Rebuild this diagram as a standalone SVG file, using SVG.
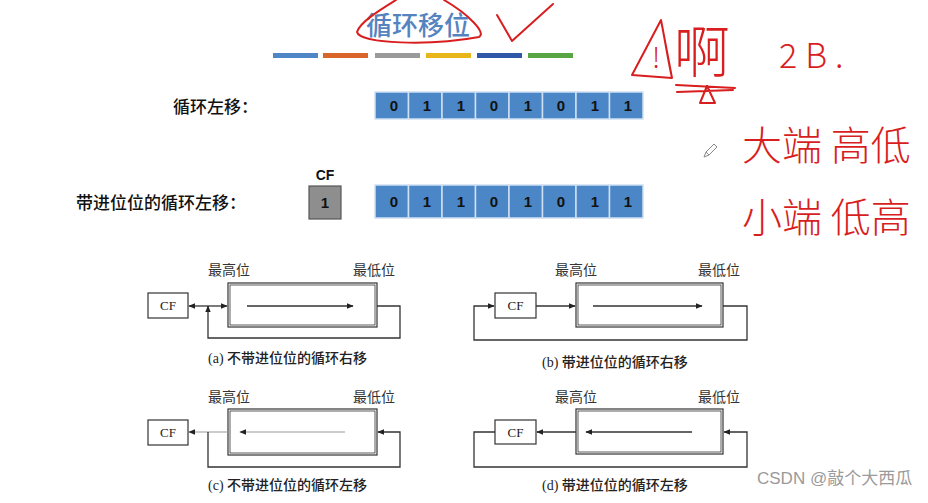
<svg xmlns="http://www.w3.org/2000/svg" width="928" height="503" viewBox="0 0 928 503">
<style>
.cell{fill:#4b86c7;stroke:#cfe0f2;stroke-width:1.5}
.dig{font-family:"Liberation Sans",Arial,sans-serif;font-weight:bold;font-size:15px;fill:#111;text-anchor:middle}
.lbl{font-family:"Noto Sans CJK SC",sans-serif;font-size:17px;font-weight:500;fill:#111}
.sm{font-family:"Noto Sans CJK SC",serif;font-size:14px;fill:#333}
.cap{font-family:"Liberation Serif","Noto Sans CJK SC",serif;font-size:14px;fill:#222;font-weight:500}
.box{fill:#fff;stroke:#333;stroke-width:1.2}
.cft{font-family:"Liberation Serif",serif;font-size:13px;fill:#222;text-anchor:middle}
.ln{fill:none;stroke:#333;stroke-width:1.3}
.lt{fill:none;stroke:#999;stroke-width:1.2}
.red{fill:#d81e1e;font-family:"Noto Sans CJK SC",sans-serif;font-weight:300}
.rs{fill:none;stroke:#d81e1e;stroke-width:2;stroke-linecap:round;stroke-linejoin:round}
</style>
<defs>
<marker id="ah" viewBox="0 0 10 10" refX="9" refY="5" markerWidth="7" markerHeight="7" markerUnits="userSpaceOnUse" orient="auto">
<path d="M0,1 L10,5 L0,9 Z" fill="#222"/>
</marker>
</defs>
<rect width="928" height="503" fill="#fff"/>

<g id="title">
<text x="366" y="35" font-family="Noto Sans CJK SC,sans-serif" font-size="26" font-weight="500" fill="#5583c0">循环移位</text>
<path class="rs" d="M396,0 C380,10 360,22 357,32 C360,44 430,46 479,37 C487,33 468,14 444,0"/>
<path class="rs" d="M497,15 L512,41 L553,4"/>
</g>

<g id="bars">
<rect x="273" y="53" width="45" height="5" fill="#4f86c6"/>
<rect x="323" y="53" width="45" height="5" fill="#d9652a"/>
<rect x="375" y="53" width="45" height="5" fill="#9a9a9a"/>
<rect x="426" y="53" width="45" height="5" fill="#e8b51a"/>
<rect x="477" y="53" width="45" height="5" fill="#2f58a8"/>
<rect x="528" y="53" width="45" height="5" fill="#5aa543"/>
</g>

<g id="row1">
<text class="lbl" x="173" y="113">循环左移：</text>
<rect class="cell" x="375" y="92" width="33.5" height="27"/>
<rect class="cell" x="408.5" y="92" width="33.5" height="27"/>
<rect class="cell" x="442" y="92" width="33.5" height="27"/>
<rect class="cell" x="475.5" y="92" width="33.5" height="27"/>
<rect class="cell" x="509" y="92" width="33.5" height="27"/>
<rect class="cell" x="542.5" y="92" width="33.5" height="27"/>
<rect class="cell" x="576" y="92" width="33.5" height="27"/>
<rect class="cell" x="609.5" y="92" width="33.5" height="27"/>
<text class="dig" x="394" y="111">0</text>
<text class="dig" x="427" y="111">1</text>
<text class="dig" x="461" y="111">1</text>
<text class="dig" x="494" y="111">0</text>
<text class="dig" x="528" y="111">1</text>
<text class="dig" x="561" y="111">0</text>
<text class="dig" x="595" y="111">1</text>
<text class="dig" x="628" y="111">1</text>
</g>

<g id="row2">
<text class="lbl" x="76" y="209">带进位位的循环左移：</text>
<text x="325" y="180" font-family="Liberation Sans,Arial,sans-serif" font-size="14" font-weight="bold" fill="#111" text-anchor="middle">CF</text>
<rect x="309" y="186" width="32" height="33" fill="#8e8e8e" stroke="#555" stroke-width="1.2"/>
<text class="dig" x="325" y="208">1</text>
<rect class="cell" x="375" y="185" width="33.5" height="33"/>
<rect class="cell" x="408.5" y="185" width="33.5" height="33"/>
<rect class="cell" x="442" y="185" width="33.5" height="33"/>
<rect class="cell" x="475.5" y="185" width="33.5" height="33"/>
<rect class="cell" x="509" y="185" width="33.5" height="33"/>
<rect class="cell" x="542.5" y="185" width="33.5" height="33"/>
<rect class="cell" x="576" y="185" width="33.5" height="33"/>
<rect class="cell" x="609.5" y="185" width="33.5" height="33"/>
<text class="dig" x="394" y="207">0</text>
<text class="dig" x="427" y="207">1</text>
<text class="dig" x="461" y="207">1</text>
<text class="dig" x="494" y="207">0</text>
<text class="dig" x="528" y="207">1</text>
<text class="dig" x="561" y="207">0</text>
<text class="dig" x="595" y="207">1</text>
<text class="dig" x="628" y="207">1</text>
</g>

<g id="notes">
<path class="rs" d="M661,20 L632,75 L672,78 Z M661,20 C665,40 668,60 672,78"/>
<text class="red" x="652" y="68" font-size="28">!</text>
<text class="red" x="674" y="72" font-size="56">啊</text>
<path class="rs" d="M676,85 L735,88 M677,92 L733,90 M700,103 L707,86 L715,103 Z"/>
<text class="red" x="779" y="68" font-size="34" letter-spacing="8" font-family="Liberation Sans,sans-serif">2B.</text>
<text class="red" x="742" y="160" font-size="40">大端 高低</text>
<text class="red" x="742" y="232" font-size="40">小端 低高</text>
<path d="M706,152 L714,144 L717,147 L709,155 Z M706,152 L704,157 L709,155" fill="none" stroke="#888" stroke-width="1"/>
</g>

<g id="diagA">
<text class="sm" x="208" y="275">最高位</text>
<text class="sm" x="353" y="275">最低位</text>
<rect class="box" x="148" y="293" width="40" height="25"/>
<text class="cft" x="168" y="310">CF</text>
<rect class="box" x="228" y="283" width="149" height="44"/>
<rect x="230" y="285" width="145" height="40" fill="none" stroke="#333" stroke-width="0.8"/>
<text class="cap" x="208" y="363">(a) 不带进位位的循环右移</text>
</g>

<g id="diagB">
<text class="sm" x="555" y="275">最高位</text>
<text class="sm" x="698" y="275">最低位</text>
<rect class="box" x="495" y="293" width="41" height="25"/>
<text class="cft" x="515.5" y="310">CF</text>
<rect class="box" x="576" y="283" width="147" height="44"/>
<rect x="578" y="285" width="143" height="40" fill="none" stroke="#333" stroke-width="0.8"/>
<text class="cap" x="542" y="367">(b) 带进位位的循环右移</text>
</g>

<g id="diagC">
<text class="sm" x="208" y="402">最高位</text>
<text class="sm" x="353" y="402">最低位</text>
<rect class="box" x="148" y="420" width="40" height="25"/>
<text class="cft" x="168" y="437">CF</text>
<rect class="box" x="228" y="409" width="149" height="46"/>
<rect x="230" y="411" width="145" height="42" fill="none" stroke="#333" stroke-width="0.8"/>
<text class="cap" x="208" y="490">(c) 不带进位位的循环左移</text>
</g>

<g id="diagD">
<text class="sm" x="555" y="402">最高位</text>
<text class="sm" x="698" y="402">最低位</text>
<rect class="box" x="495" y="420" width="41" height="24"/>
<text class="cft" x="515.5" y="437">CF</text>
<rect class="box" x="576" y="409" width="147" height="45"/>
<rect x="578" y="411" width="143" height="41" fill="none" stroke="#333" stroke-width="0.8"/>
<text class="cap" x="542" y="490">(d) 带进位位的循环左移</text>
</g>

<g id="connectors">
<line class="ln" x1="247" y1="306" x2="353" y2="306" marker-end="url(#ah)"/>
<path class="ln" d="M377,306 H400 V338 H208 V306" marker-end="url(#ah)"/>
<line class="ln" x1="208" y1="306" x2="189" y2="306" marker-end="url(#ah)"/>
<line class="ln" x1="208" y1="306" x2="227" y2="306" marker-end="url(#ah)"/>

<line class="ln" x1="593" y1="306" x2="702" y2="306" marker-end="url(#ah)"/>
<line class="ln" x1="536" y1="306" x2="575" y2="306" marker-end="url(#ah)"/>
<path class="ln" d="M723,306 H747 V340 H474 V306 H494" marker-end="url(#ah)"/>

<line class="lt" x1="345" y1="432" x2="240" y2="432" marker-end="url(#ah)"/>
<line class="lt" x1="228" y1="432" x2="189" y2="432" marker-end="url(#ah)"/>
<path class="ln" d="M208,432 V467 H400 V432 H378" marker-end="url(#ah)"/>

<line class="ln" x1="692" y1="432" x2="586" y2="432" marker-end="url(#ah)"/>
<line class="ln" x1="576" y1="432" x2="537" y2="432" marker-end="url(#ah)"/>
<path class="ln" d="M495,432 H474 V467 H747 V432 H724" marker-end="url(#ah)"/>
</g>

<text x="757" y="484" font-family="Liberation Sans,Noto Sans CJK SC,sans-serif" font-size="17" fill="#9a9a9a">CSDN @敲个大西瓜</text>
</svg>
